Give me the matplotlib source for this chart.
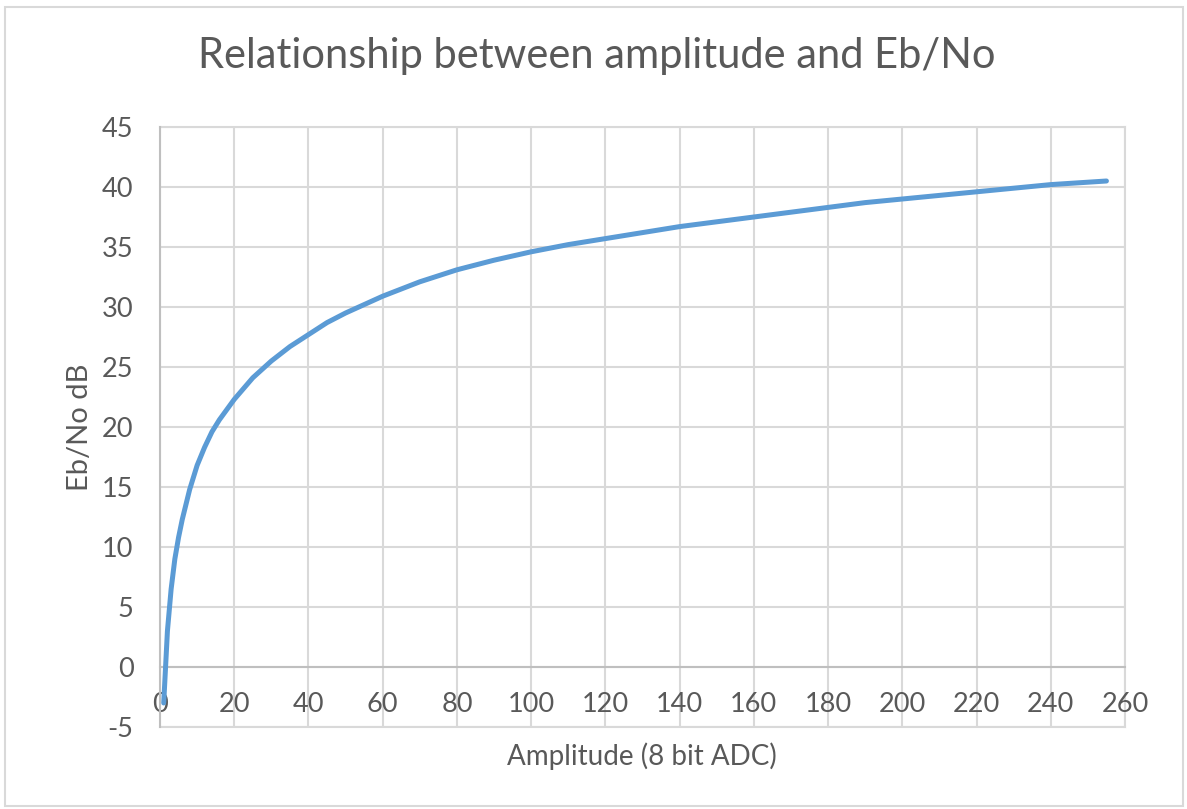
import matplotlib
matplotlib.use("Agg")
import matplotlib.pyplot as plt
from matplotlib.patches import Rectangle

amplitude = [1, 2, 3, 4, 5, 6, 8, 10, 12, 14, 16, 20, 25, 30, 35, 40, 45, 50, 55, 60,
             70, 80, 90, 100, 110, 120, 130, 140, 150, 160, 170, 180, 190, 200,
             210, 220, 230, 240, 250, 255]
ebno_db = [-3.0, 3.0, 6.5, 9.0, 10.8, 12.3, 14.8, 16.8, 18.3, 19.6, 20.6, 22.3, 24.1,
           25.5, 26.7, 27.7, 28.7, 29.5, 30.2, 30.9, 32.1, 33.1, 33.9, 34.6, 35.2,
           35.7, 36.2, 36.7, 37.1, 37.5, 37.9, 38.3, 38.7, 39.0, 39.3, 39.6, 39.9,
           40.2, 40.4, 40.5]
x_ticks = list(range(0, 261, 20))
y_ticks = list(range(-5, 46, 5))

title = "Relationship between amplitude and Eb/No"
x_label = "Amplitude (8 bit ADC)"
y_label = "Eb/No dB"

TEXT = "#595959"
GRID = "#D9D9D9"
AXIS = "#BFBFBF"
LINE = "#5B9BD5"

plt.rcParams['font.family'] = ['Lato', 'DejaVu Sans']
plt.rcParams['axes.unicode_minus'] = False

W, H = 1187, 809
fig = plt.figure(figsize=(W / 100, H / 100), dpi=100)
fig.patch.set_facecolor("white")

# outer chart frame
fig.patches.append(Rectangle((5 / W, 3 / H), 1178 / W, (H - 10) / H,
                             transform=fig.transFigure, fill=False,
                             edgecolor="#D9D9D9", linewidth=1.5))

ax = fig.add_axes([160 / W, 1 - 727 / H, 965 / W, 600 / H])
ax.set_xlim(0, 260)
ax.set_ylim(-5, 45)
ax.set_xticks(x_ticks)
ax.set_yticks(y_ticks)
ax.grid(True, color=GRID, linewidth=1.5)
ax.set_axisbelow(True)

for s in ["top", "right"]:
    ax.spines[s].set_visible(False)
ax.spines["left"].set_color(AXIS)
ax.spines["left"].set_linewidth(1.5)
ax.spines["bottom"].set_position(("data", 0))
ax.spines["bottom"].set_color(AXIS)
ax.spines["bottom"].set_linewidth(1.5)
ax.axhline(-5, color=GRID, linewidth=1.5, clip_on=False, zorder=0.5)
ax.axhline(45, color=GRID, linewidth=1.5, clip_on=False, zorder=0.5)
ax.axvline(260, color=GRID, linewidth=1.5, clip_on=False, zorder=0.5)

ax.tick_params(axis="x", length=0, pad=18, labelsize=19.5, labelcolor=TEXT)
ax.tick_params(axis="y", length=0, pad=19, labelsize=19.5, labelcolor=TEXT)

ax.plot(amplitude, ebno_db, color=LINE, linewidth=3.6, solid_capstyle="round",
        solid_joinstyle="round", clip_on=False, zorder=3)

ax.set_xlabel(x_label, fontsize=20, color=TEXT)
ax.xaxis.set_label_coords(0.499, -0.025)
ax.set_ylabel(y_label, fontsize=21, color=TEXT)
ax.yaxis.set_label_coords(-0.069, 0.5)

fig.text(597 / W, 1 - 68 / H, title, ha="center", va="baseline",
         fontsize=30, color=TEXT)

fig.savefig("out.png", dpi=100, facecolor="white")
